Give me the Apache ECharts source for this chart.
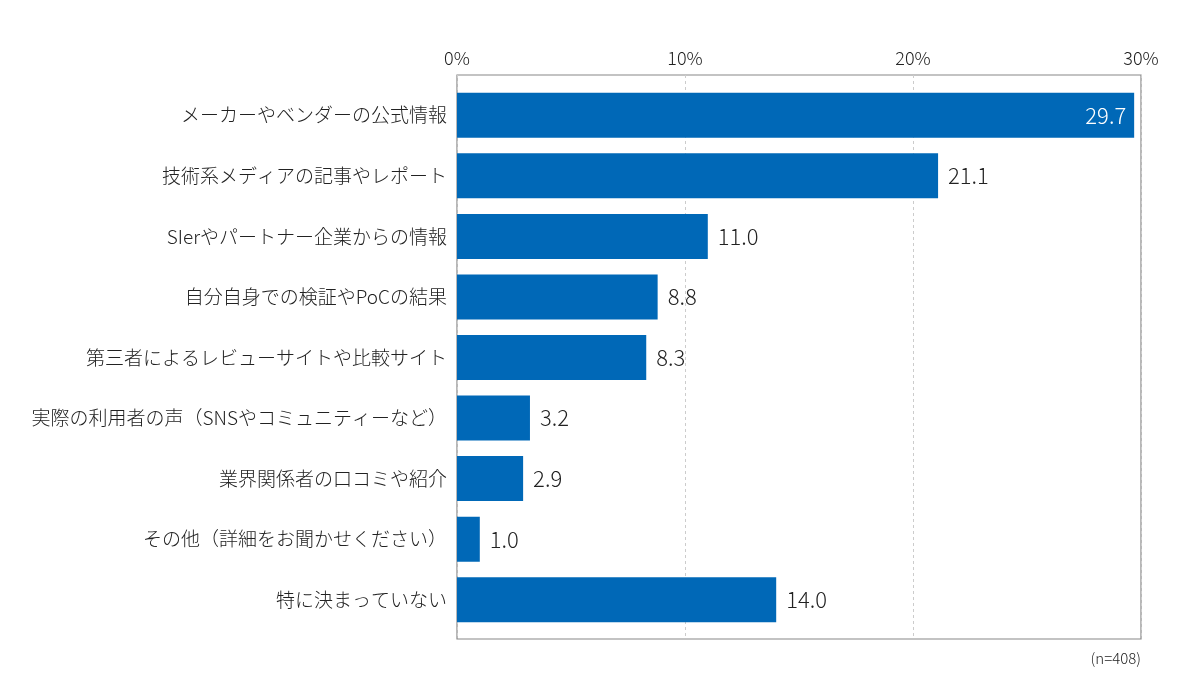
<!DOCTYPE html>
<html>
<head>
<meta charset="utf-8">
<script src="https://cdn.jsdelivr.net/npm/echarts@6/dist/echarts.min.js"></script>
<style>
  html, body { margin: 0; padding: 0; background: #fff; }
  #chart { width: 1200px; height: 696px; }
</style>
</head>
<body>
<div id="chart"></div>
<script>
const categories = [
  "メーカーやベンダーの公式情報",
  "技術系メディアの記事やレポート",
  "SIerやパートナー企業からの情報",
  "自分自身での検証やPoCの結果",
  "第三者によるレビューサイトや比較サイト",
  "実際の利用者の声（SNSやコミュニティーなど）",
  "業界関係者の口コミや紹介",
  "その他（詳細をお聞かせください）",
  "特に決まっていない"
];
const values = [29.7, 21.1, 11.0, 8.8, 8.3, 3.2, 2.9, 1.0, 14.0];
const insideLabel = [true, false, false, false, false, false, false, false, false];
const note = "(n=408)";

const font = '"Noto Sans CJK JP", "Noto Sans", sans-serif';
const barColor = "#0068b7";
const textColor = "#222";

var myChart = echarts.init(document.getElementById("chart"));

const option = {
  textStyle: { fontFamily: font },
  animation: false,
  graphic: [
    {
      type: "text",
      right: 59,
      top: 651,
      style: { text: note, fontSize: 15, fill: textColor, fontFamily: font, fontWeight: 300 }
    }
  ],
  grid: [
    // frame + ticks
    {
      left: 457,
      right: 59,
      top: 75,
      bottom: 57,
      show: true,
      borderColor: "#888",
      borderWidth: 1.2
    },
    // bars
    {
      left: 457,
      right: 59,
      top: 85,
      bottom: 66
    }
  ],
  xAxis: [
    {
      gridIndex: 0,
      type: "value",
      position: "top",
      min: 0,
      max: 30,
      interval: 10,
      axisLine: { show: false },
      axisTick: { show: false },
      axisLabel: {
        formatter: "{value}%",
        fontSize: 18,
        fontWeight: 300,
        color: textColor,
        margin: 8
      },
      splitLine: {
        lineStyle: { color: "#ccc", type: [3, 3], width: 1 }
      }
    },
    {
      gridIndex: 1,
      type: "value",
      min: 0,
      max: 30,
      interval: 10,
      show: false
    }
  ],
  yAxis: [
    {
      gridIndex: 0,
      type: "value",
      show: false
    },
    {
      gridIndex: 1,
      type: "category",
      inverse: true,
      data: categories,
      axisLine: { show: false },
      axisTick: { show: false },
      axisLabel: {
        fontSize: 19,
        fontWeight: 300,
        color: textColor,
        margin: 10
      }
    }
  ],
  series: [
    {
      type: "bar",
      xAxisIndex: 1,
      yAxisIndex: 1,
      barWidth: 45,
      itemStyle: { color: barColor },
      data: values.map((v, i) => ({
        value: v,
        label: insideLabel[i]
          ? { position: "insideRight", color: "#fff", distance: 8 }
          : { position: "right", color: textColor, distance: 10 }
      })),
      label: {
        show: true,
        fontSize: 22,
        fontWeight: 300,
        formatter: (p) => p.value.toFixed(1)
      }
    }
  ]
};

myChart.setOption(option);
</script>
</body>
</html>
